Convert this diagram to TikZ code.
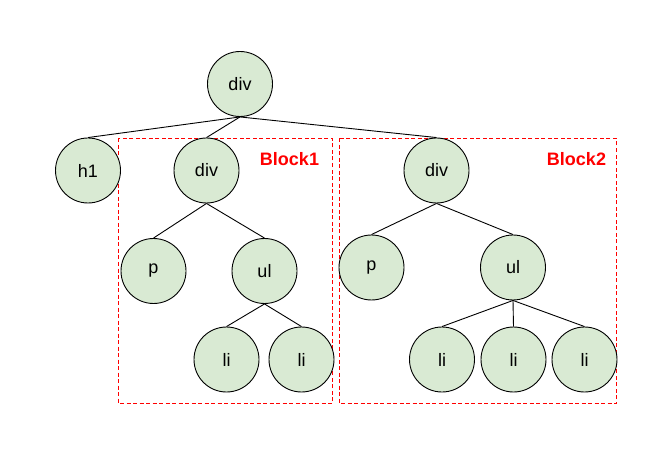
\documentclass[tikz,border=0pt]{standalone}
\usepackage{fontspec}
\setmainfont{Liberation Sans}
\usepackage{tikz}
\usetikzlibrary{positioning}
\definecolor{leafgreen}{HTML}{D9EAD3}
\definecolor{blockred}{HTML}{FF0000}
\tikzset{
  domnode/.style={circle,draw=black,fill=leafgreen,line width=0.9pt,
    minimum size=65pt,inner sep=0pt,font=\fontsize{18}{20}\selectfont},
  blockbox/.style={draw=blockred,line width=0.9pt,dash pattern=on 4pt off 2.5pt},
  blocklabel/.style={text=blockred,font=\fontsize{18}{20}\selectfont\bfseries},
  treeedge/.style={line width=0.9pt,black}
}

\begin{document}
\begin{tikzpicture}[x=1pt,y=-1pt]
    \useasboundingbox (0,0) rectangle (672,457);
    % dashed blocks
    \draw[blockbox] (118.5,138.5) rectangle (332,403.5);
    \draw[blockbox] (339.5,138.5) rectangle (616,403.5);
    \node[blocklabel] (lblA) at (289.5,159) {Block1};
    \node[blocklabel] (lblB) at (576.5,159) {Block2};
    % tree nodes
    \node[domnode] (root) at (240,84) {div};
    \node[domnode] (hone) at (88,170.5) {h1};
    \node[domnode] (divA) at (206.5,170.5) {div};
    \node[domnode] (pA) at (153.5,271) {p};
    \node[domnode] (ulA) at (264.5,271) {ul};
    \node[domnode] (divB) at (436.5,170.5) {div};
    \node[domnode] (pB) at (371.5,267.5) {p};
    \node[domnode] (ulB) at (513,267.5) {ul};
    \foreach \n/\x in {liAa/226.5,liAb/301.5,liBa/442,liBb/513.5,liBc/584.5}
      \node[domnode] (\n) at (\x,359.5) {li};
    % connectors
    \foreach \c in {hone,divA,divB}
      \draw[treeedge] (root.south) -- (\c.north);
    \foreach \p/\c in {divA/pA,divA/ulA,ulA/liAa,ulA/liAb,
                       divB/pB,divB/ulB,ulB/liBa,ulB/liBb,ulB/liBc}
      \draw[treeedge] (\p.south) -- (\c.north);
  \end{tikzpicture}
\end{document}
